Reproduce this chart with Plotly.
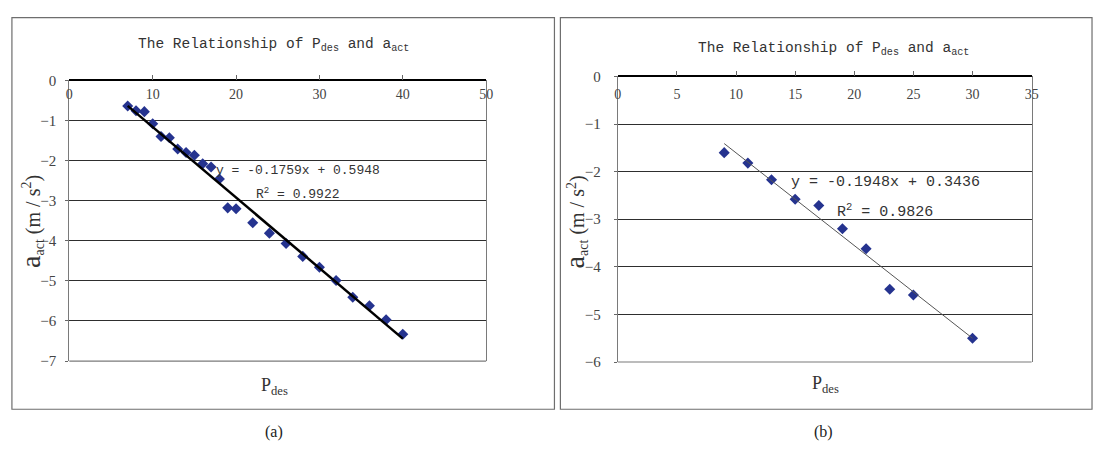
import plotly.graph_objects as go

# ---------------- data ----------------
p_des_a = [7, 8, 9, 10, 11, 12, 13, 14, 15, 16, 17, 18, 19, 20, 22, 24, 26, 28, 30, 32, 34, 36, 38, 40]
a_act_a = [-0.64, -0.76, -0.78, -1.08, -1.40, -1.43, -1.71, -1.80, -1.87, -2.08, -2.16, -2.46,
           -3.18, -3.20, -3.55, -3.81, -4.07, -4.39, -4.66, -4.99, -5.41, -5.62, -5.97, -6.33]
p_des_b = [9, 11, 13, 15, 17, 19, 21, 23, 25, 30]
a_act_b = [-1.60, -1.82, -2.17, -2.58, -2.71, -3.20, -3.62, -4.47, -4.59, -5.50]

slope_a, intercept_a, r2_a = -0.1759, 0.5948, 0.9922
slope_b, intercept_b, r2_b = -0.1948, 0.3436, 0.9826

x_ticks_a = [0, 10, 20, 30, 40, 50]
x_ticks_b = [0, 5, 10, 15, 20, 25, 30, 35]
y_ticks_a = [0, -1, -2, -3, -4, -5, -6, -7]
y_ticks_b = [0, -1, -2, -3, -4, -5, -6]

title_text = "The Relationship of P<sub>des</sub> and a<sub>act</sub>"
x_title = "P<sub>des</sub>"
y_title = '<span style="font-size:28px">a</span><sub>act</sub> (m / s<sup>2</sup>)'
panel_labels = ["(a)", "(b)"]

# ---------------- layout helpers ----------------
W, H = 1101, 452
def px(x):
    return x / W
def py(y):
    return 1 - y / H

MARKER = "#25338f"
SERIF = "Liberation Serif"
MONO = "Liberation Mono"

fig = go.Figure()

# scatter points
fig.add_trace(go.Scatter(x=p_des_a, y=a_act_a, mode="markers", xaxis="x", yaxis="y",
                         marker=dict(symbol="diamond", size=8.5, color=MARKER), showlegend=False))
fig.add_trace(go.Scatter(x=p_des_b, y=a_act_b, mode="markers", xaxis="x2", yaxis="y2",
                         marker=dict(symbol="diamond", size=8.5, color=MARKER), showlegend=False))

# trend lines (from the fitted equations shown on the chart)
xa = [min(p_des_a), max(p_des_a)]
fig.add_trace(go.Scatter(x=xa, y=[slope_a * v + intercept_a for v in xa], mode="lines",
                         xaxis="x", yaxis="y", line=dict(color="black", width=2.5), showlegend=False))
xb = [min(p_des_b), max(p_des_b)]
fig.add_trace(go.Scatter(x=xb, y=[slope_b * v + intercept_b for v in xb], mode="lines",
                         xaxis="x2", yaxis="y2", line=dict(color="#555555", width=1), showlegend=False))

def xaxis_cfg(domain, position, rng, ticks, standoff):
    # axis line sits at a=0 (top of the plot); labels below it, tick marks pointing up
    return dict(domain=domain, anchor="free", position=position, range=rng, tickvals=ticks,
                side="bottom", ticks="inside", ticklen=5, tickcolor="#666",
                ticklabelstandoff=standoff,
                showline=True, linecolor="black", linewidth=1.5, showgrid=False, zeroline=False,
                tickfont=dict(family=SERIF, size=14, color="#444"), fixedrange=True)

def yaxis_cfg(domain, anchor, rng, ticks, standoff):
    return dict(domain=domain, anchor=anchor, range=rng, tickvals=ticks,
                ticks="outside", ticklen=3, tickcolor="#666", ticklabelstandoff=standoff,
                showline=True, mirror=True, linecolor="#7a7a7a", linewidth=1,
                showgrid=True, gridcolor="#2e2e2e", gridwidth=1, zeroline=False,
                tickfont=dict(family=SERIF, size=15, color="#444"), fixedrange=True)

fig.update_layout(
    width=W, height=H, margin=dict(l=0, r=0, t=0, b=0),
    paper_bgcolor="white", plot_bgcolor="white", showlegend=False,
    xaxis=xaxis_cfg([px(66), px(487)], py(75), [0, 50], x_ticks_a, 1),
    yaxis=yaxis_cfg([py(366), py(75)], "x", [-7, 0], y_ticks_a, 6),
    xaxis2=xaxis_cfg([px(620), px(1038)], py(71), [0, 35], x_ticks_b, 5),
    yaxis2=yaxis_cfg([py(367), py(71)], "x2", [-6, 0], y_ticks_b, 10),
)

# outer chart frames and bottom borders of plot areas
shapes = [
    dict(type="rect", xref="paper", yref="paper", x0=px(8), x1=px(556), y0=py(416), y1=py(10),
         line=dict(color="#6e6e6e", width=1.2)),
    dict(type="rect", xref="paper", yref="paper", x0=px(562), x1=px(1099), y0=py(416), y1=py(10),
         line=dict(color="#6e6e6e", width=1.2)),
    dict(type="line", xref="x domain", yref="y domain", x0=0, x1=1, y0=0, y1=0,
         line=dict(color="#7a7a7a", width=1.2)),
    dict(type="line", xref="x2 domain", yref="y2 domain", x0=0, x1=1, y0=0, y1=0,
         line=dict(color="#7a7a7a", width=1.2)),
]
fig.update_layout(shapes=shapes)

ann = []
def text(x, y, s, size, family, color="#333", angle=0):
    ann.append(dict(x=px(x), y=py(y), xref="paper", yref="paper", text=s, showarrow=False,
                    font=dict(family=family, size=size, color=color), textangle=angle,
                    xanchor="center", yanchor="middle"))

# titles
text(272, 38, title_text, 14.5, MONO)
text(838, 43, title_text, 14.5, MONO)
# axis titles
text(273, 392, x_title, 18, SERIF)
text(830, 390, x_title, 18, SERIF)
text(27, 221, y_title, 20, SERIF, angle=-90)
text(577, 222, y_title, 20, SERIF, angle=-90)
# equations
text(297, 168, f"y = {slope_a:.4f}x + {intercept_a:.4f}", 13, MONO)
text(297, 192, f"R<sup>2</sup> = {r2_a:.4f}", 13, MONO)
text(890, 181, f"y = {slope_b:.4f}x + {intercept_b:.4f}", 15, MONO)
text(890, 210, f"R<sup>2</sup> = {r2_b:.4f}", 15, MONO)
# panel labels
text(273, 440, panel_labels[0], 16, SERIF, color="#222")
text(828, 440, panel_labels[1], 16, SERIF, color="#222")

fig.update_layout(annotations=ann)
fig.write_html("out.html")
